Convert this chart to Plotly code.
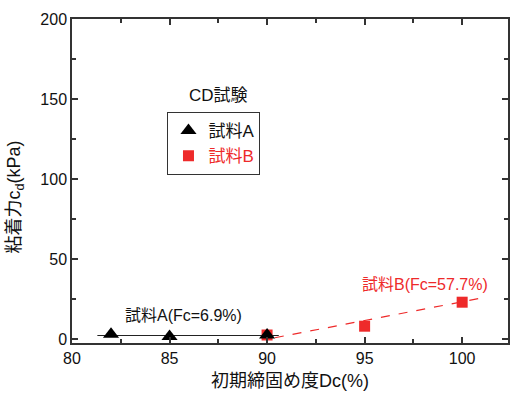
import plotly.graph_objects as go

# data
a_x = [82, 85, 90]
a_y = [3, 1.5, 2.5]
b_x = [90, 95, 100]
b_y = [2.5, 8, 23]
a_fit_x = [81.3, 90.6]
a_fit_y = [2.2, 2.2]
b_fit_x = [90.4, 101.0]
b_fit_y = [0.8, 25.6]
x_ticks = [80, 85, 90, 95, 100]
y_ticks = [0, 50, 100, 150, 200]

FONT = "Liberation Sans, Arial, Noto Sans CJK JP, sans-serif"
RED = "#ee2a2a"
BLACK = "#000000"

fig = go.Figure()
fig.add_trace(go.Scatter(x=a_fit_x, y=a_fit_y, mode="lines",
                         line=dict(color="#222222", width=1.2), showlegend=False))
fig.add_trace(go.Scatter(x=b_fit_x, y=b_fit_y, mode="lines",
                         line=dict(color=RED, width=1.2, dash="dash"), showlegend=False))
fig.add_trace(go.Scatter(x=b_x, y=b_y, mode="markers", name="試料B",
                         marker=dict(symbol="square", size=11, color=RED),
                         showlegend=False))
fig.add_trace(go.Scatter(x=a_x, y=a_y, mode="markers", name="試料A",
                         marker=dict(symbol="triangle-up", size=14, color=BLACK)))
fig.add_trace(go.Scatter(x=[None], y=[None], mode="markers",
                         name="<span style='color:%s'>試料B</span>" % RED,
                         marker=dict(symbol="square", size=11, color=RED)))

axis_common = dict(
    showline=True, linecolor="#333333", linewidth=1.5, mirror="ticks",
    ticks="inside", ticklen=6, tickwidth=1.5, tickcolor="#333333",
    showgrid=False, zeroline=False,
    tickfont=dict(family=FONT, size=16, color="#111111"),
)

fig.update_xaxes(range=[80, 102.35], tickvals=x_ticks, **axis_common,
                 minor=dict(ticks="inside", ticklen=4, dtick=2.5, tick0=80,
                            tickcolor="#333333", tickwidth=1.5),
                 title=dict(text="初期締固め度Dc(%)", font=dict(family=FONT, size=18, color="#111111"),
                            standoff=8))
fig.update_yaxes(range=[-2.5, 200], tickvals=y_ticks, **axis_common,
                 minor=dict(ticks="inside", ticklen=4, dtick=25, tick0=0,
                            tickcolor="#333333", tickwidth=1.5))

fig.add_annotation(x=85.7, y=15, xref="x", yref="y", text="試料A(Fc=6.9%)",
                   showarrow=False, font=dict(family=FONT, size=16, color="#111111"))
fig.add_annotation(x=98.1, y=34, xref="x", yref="y", text="試料B(Fc=57.7%)",
                   showarrow=False, font=dict(family=FONT, size=16, color=RED))
# y axis title as annotation
fig.add_annotation(x=-0.13, y=0.45, xref="paper", yref="paper",
                   xanchor="center", yanchor="middle",
                   text="粘着力c<sub>d</sub>(kPa)", textangle=-90, showarrow=False,
                   font=dict(family=FONT, size=18, color="#111111"))
# legend title
fig.add_annotation(x=0.337, y=0.763, xref="paper", yref="paper", text="CD試験",
                   xanchor="center", yanchor="middle",
                   showarrow=False, font=dict(family=FONT, size=17, color="#111111"))

fig.update_layout(
    width=510, height=396,
    margin=dict(l=72, r=0, t=19, b=53),
    plot_bgcolor="white", paper_bgcolor="white",
    legend=dict(x=0.219, y=0.713, xanchor="left", yanchor="top",
                bordercolor="#333333", borderwidth=1, bgcolor="white",
                font=dict(family=FONT, size=17, color="#111111"),
                tracegroupgap=0, itemwidth=30),
)

fig.write_html("out.html")
